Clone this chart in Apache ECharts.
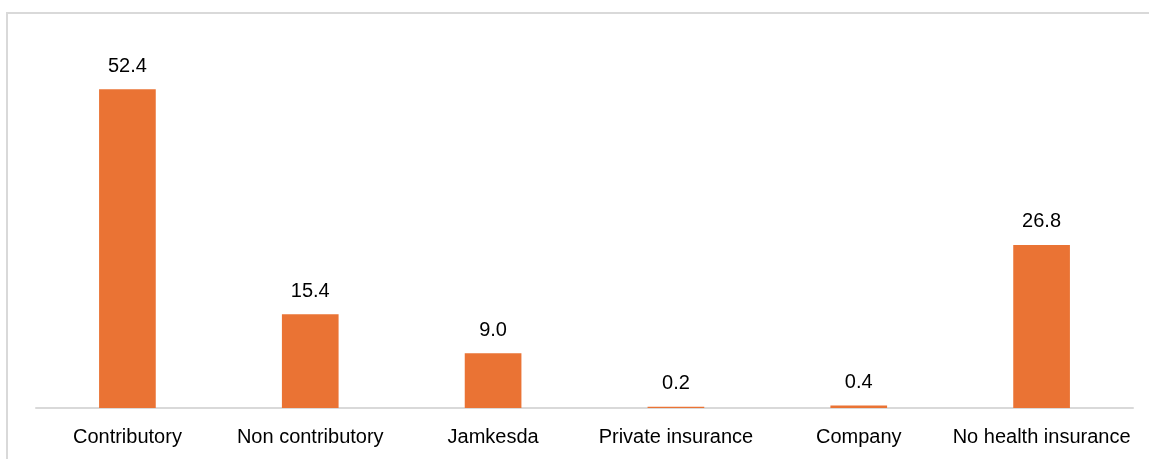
<!DOCTYPE html>
<html><head><meta charset="utf-8">
<script src="https://cdn.jsdelivr.net/npm/echarts@6/dist/echarts.min.js"></script>
<style>html,body{margin:0;padding:0;background:#fff}#c{width:1149px;height:459px}</style>
</head><body><div id="c"></div>
<script>
const categories = ['Contributory','Non contributory','Jamkesda','Private insurance','Company','No health insurance'];
const values = [52.4, 15.4, 9.0, 0.2, 0.4, 26.8];
const FONT = "'Liberation Sans',Arial,sans-serif";
const chart = echarts.init(document.getElementById('c'));
chart.setOption({
  animation:false,
  backgroundColor:'#fff',
  graphic:[{type:'rect',shape:{x:7,y:13,width:1200,height:500},style:{fill:'none',stroke:'#d9d9d9',lineWidth:2},silent:true}],
  grid:{left:36,right:16,top:43,bottom:51},
  xAxis:{type:'category',data:categories,
    axisLine:{lineStyle:{color:'#d9d9d9',width:2}},
    axisTick:{show:false},
    axisLabel:{color:'#000',fontFamily:FONT,fontSize:20,margin:19,interval:0}},
  yAxis:{type:'value',min:0,max:60,show:false,splitLine:{show:false}},
  series:[{type:'bar',data:values,barWidth:'31%',
    itemStyle:{color:'#EA7334'},
    label:{show:true,position:'top',distance:13,color:'#000',fontFamily:FONT,fontSize:20,
      formatter:p=>p.value.toFixed(1)}}]
});
</script></body></html>
